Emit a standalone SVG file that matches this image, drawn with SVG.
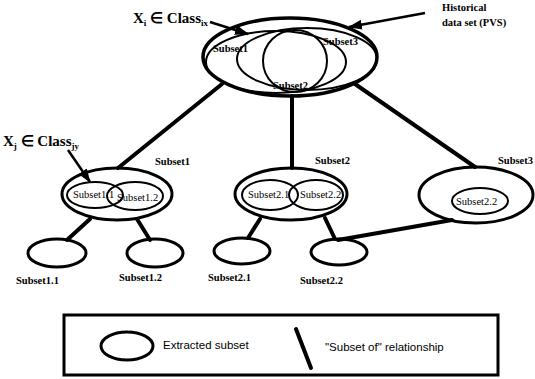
<svg xmlns="http://www.w3.org/2000/svg" width="535" height="379" viewBox="0 0 535 379">
<defs>
<marker id="ah" viewBox="0 0 14 10" refX="13" refY="5" markerWidth="14" markerHeight="10" orient="auto" markerUnits="userSpaceOnUse">
<path d="M0,0 L14,5 L0,10 z" fill="#000"/>
</marker>
</defs>
<style>
.bg{fill:#fff}
.node{fill:none;stroke:#000;stroke-width:3}
.outer{fill:none;stroke:#000;stroke-width:3.5}
.inner{fill:none;stroke:#000;stroke-width:2}
.conn{stroke:#000;stroke-width:4;stroke-linecap:round;fill:none}
.arr{stroke:#000;stroke-width:2.5;fill:none}
.lbl{font-family:"Liberation Serif",serif;font-weight:bold;font-size:10.5px;fill:#000}
.il{font-family:"Liberation Serif",serif;font-size:10.5px;fill:#000}
.big{font-family:"Liberation Serif",serif;font-weight:bold;font-size:15px;fill:#000}
.sub{font-size:9px}
.leg{font-family:"Liberation Sans",sans-serif;font-size:11.5px;fill:#000}
</style>
<rect class="bg" x="0" y="0" width="535" height="379"/>

<g id="connectors">
<line class="conn" x1="222" y1="84" x2="118" y2="168"/>
<line class="conn" x1="292" y1="96" x2="292" y2="168"/>
<line class="conn" x1="355" y1="84" x2="475" y2="167"/>
<line class="conn" x1="90" y1="219" x2="67" y2="240"/>
<line class="conn" x1="137" y1="219" x2="150" y2="240"/>
<line class="conn" x1="260" y1="219" x2="248" y2="238"/>
<line class="conn" x1="325" y1="218" x2="335" y2="239"/>
<line class="conn" x1="452" y1="220" x2="338" y2="240"/>
</g>

<g id="historical">
<ellipse class="outer" cx="290" cy="57" rx="87" ry="39"/>
<ellipse class="inner" cx="276" cy="62" rx="70" ry="31"/>
<ellipse class="inner" cx="307" cy="59" rx="70" ry="31"/>
<ellipse class="inner" cx="295" cy="61" rx="32" ry="31"/>
<text class="lbl" x="213" y="52">Subset1</text>
<text class="lbl" x="323" y="45">Subset3</text>
<text class="lbl" x="273" y="89">Subset2</text>
<text class="lbl" x="442" y="11">Historical</text>
<text class="lbl" x="442" y="26">data set  (PVS)</text>
</g>

<g id="label-xi">
<text class="big" x="133" y="23">X<tspan class="sub" dy="3">i</tspan><tspan dy="-3"> ∈ Class</tspan><tspan class="sub" dy="3">ix</tspan></text>
<line class="arr" x1="210" y1="22" x2="248" y2="34" marker-end="url(#ah)"/>
<line class="arr" x1="425" y1="13" x2="349" y2="27" marker-end="url(#ah)"/>
</g>

<g id="label-xj">
<text class="big" x="3" y="146">X<tspan class="sub" dy="3">j</tspan><tspan dy="-3"> ∈ Class</tspan><tspan class="sub" dy="3">jy</tspan></text>
<line class="arr" x1="68" y1="150" x2="90" y2="182" marker-end="url(#ah)"/>
</g>

<g id="subset1">
<ellipse class="node" cx="117" cy="194" rx="55" ry="26"/>
<ellipse class="inner" cx="95" cy="195" rx="28" ry="13"/>
<ellipse class="inner" cx="135" cy="196" rx="28" ry="14"/>
<text class="il" x="73" y="198">Subset1.1</text>
<text class="il" x="117" y="201">Subset1.2</text>
<text class="lbl" x="155" y="165">Subset1</text>
</g>

<g id="subset2">
<ellipse class="node" cx="291" cy="194" rx="56" ry="26"/>
<ellipse class="inner" cx="270" cy="195" rx="28" ry="15"/>
<ellipse class="inner" cx="316" cy="195" rx="27" ry="15"/>
<text class="il" x="248" y="198">Subset2.1</text>
<text class="il" x="300" y="198">Subset2.2</text>
<text class="lbl" x="315" y="164">Subset2</text>
</g>

<g id="subset3">
<ellipse class="node" cx="476" cy="195" rx="57" ry="28"/>
<ellipse class="inner" cx="480" cy="201" rx="28" ry="13"/>
<text class="il" x="456" y="205">Subset2.2</text>
<text class="lbl" x="498" y="164">Subset3</text>
</g>

<g id="leaf11">
<ellipse class="node" cx="57" cy="253" rx="29" ry="14"/>
<text class="lbl" x="16" y="284">Subset1.1</text>
</g>
<g id="leaf12">
<ellipse class="node" cx="155" cy="253" rx="28" ry="14"/>
<text class="lbl" x="119" y="281">Subset1.2</text>
</g>
<g id="leaf21">
<ellipse class="node" cx="242" cy="251" rx="28" ry="13"/>
<text class="lbl" x="208" y="281">Subset2.1</text>
</g>
<g id="leaf22">
<ellipse class="node" cx="339" cy="252" rx="28" ry="13"/>
<text class="lbl" x="300" y="284">Subset2.2</text>
</g>

<g id="legend">
<rect x="64" y="315" width="434" height="60" fill="none" stroke="#000" stroke-width="3"/>
<ellipse class="node" cx="127" cy="346" rx="26" ry="14"/>
<text class="leg" x="163" y="349">Extracted subset</text>
<line class="conn" x1="296" y1="329" x2="311" y2="368"/>
<text class="leg" x="325" y="351">"Subset of" relationship</text>
</g>
</svg>
